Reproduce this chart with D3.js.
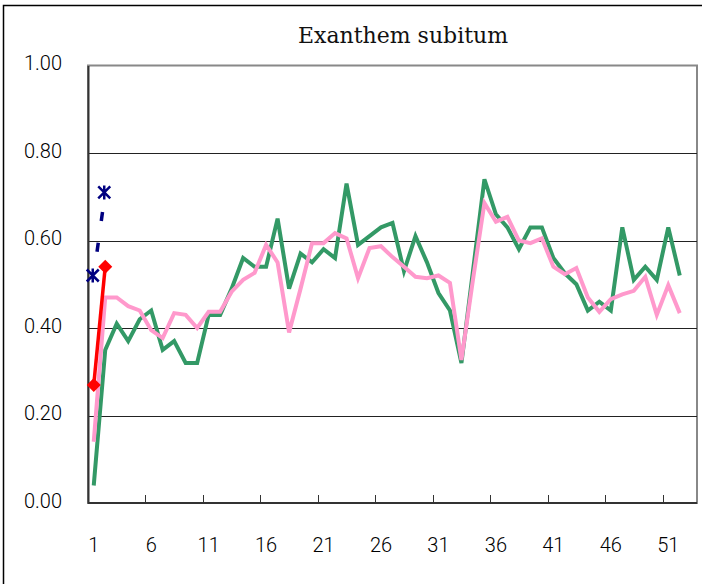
<!DOCTYPE html>
<html>
<head>
<meta charset="utf-8">
<script src="https://cdn.jsdelivr.net/npm/d3@7"></script>
<style>
  body { margin: 0; background: #fff; }
</style>
</head>
<body>
<div id="chart"></div>
<script>
// Colors
var green = "#339966";
var pink = "#FF99CC";
var red = "#FF0000";
var navy = "#000080";
var gridColor = "#222222";
var borderGray = "#888888";
const labelFont = "Roboto, 'Noto Sans', sans-serif";

// Data (weeks 1-53, values per week)
const weeks = d3.range(1, 54);
const tickWeeks = [1, 6, 11, 16, 21, 26, 31, 36, 41, 46, 51];
const yTicks = [0, 0.2, 0.4, 0.6, 0.8, 1.0];

const greenValues = [0.04, 0.35, 0.41, 0.37, 0.42, 0.44, 0.35, 0.37, 0.32, 0.32,
    0.43, 0.43, 0.49, 0.56, 0.54, 0.54, 0.65, 0.49, 0.57, 0.55,
    0.58, 0.56, 0.73, 0.59, 0.61, 0.63, 0.64, 0.53, 0.61, 0.55,
    0.48, 0.44, 0.32, 0.53, 0.74, 0.66, 0.63, 0.58, 0.63, 0.63,
    0.56, 0.525, 0.50, 0.44, 0.46, 0.44, 0.63, 0.51, 0.54, 0.51,
    0.63, 0.52];
const pinkValues = [0.14, 0.47, 0.47, 0.45, 0.44, 0.395, 0.377, 0.434, 0.43, 0.40,
    0.437, 0.437, 0.483, 0.51, 0.526, 0.59, 0.55, 0.39, 0.49, 0.594,
    0.594, 0.617, 0.605, 0.514, 0.583, 0.587, 0.562, 0.54, 0.517, 0.514,
    0.52, 0.503, 0.327, 0.51, 0.686, 0.643, 0.654, 0.60, 0.594, 0.605,
    0.54, 0.523, 0.537, 0.47, 0.437, 0.466, 0.477, 0.485, 0.517, 0.43,
    0.498, 0.434];
const navyValues = [0.52, 0.71];
const redValues = [0.27, 0.54];

// dimensions
const W = 702, H = 584;
const plot = { left: 88, right: 697, top: 65.5, bottom: 503 };

const svg = d3.select("#chart")
    .append("svg")
    .attr("width", W)
    .attr("height", H);

// outer chart border
svg.append("rect")
    .attr("x", 3.5).attr("y", 5.5)
    .attr("width", 740).attr("height", 620)
    .attr("fill", "white")
    .attr("stroke", "black")
    .attr("stroke-width", 1.5);

// title
svg.append("text")
    .text("Exanthem subitum")
    .attr("x", 403)
    .attr("y", 43)
    .attr("text-anchor", "middle")
    .attr("font-family", "'DejaVu Serif', serif")
    .attr("font-size", 22)
    .style("fill", "#111");

// scales
const x = d3.scaleBand()
    .domain(weeks)
    .range([plot.left, plot.right])
    .padding(0);
const cx = function (w) { return x(w) + x.bandwidth() / 2; };

const y = d3.scaleLinear()
    .domain([0, 1])
    .range([plot.bottom, plot.top]);

// plot area border (gray top / right)
svg.append("rect")
    .attr("x", plot.left).attr("y", plot.top)
    .attr("width", plot.right - plot.left)
    .attr("height", plot.bottom - plot.top)
    .attr("fill", "white")
    .attr("stroke", borderGray)
    .attr("stroke-width", 2);

// gridlines
svg.append("g")
    .selectAll("line")
    .data(yTicks.filter(d => d > 0 && d < 1))
    .enter().append("line")
    .attr("x1", plot.left).attr("x2", plot.right)
    .attr("y1", d => Math.round(y(d)) + 0.5)
    .attr("y2", d => Math.round(y(d)) + 0.5)
    .attr("stroke", gridColor)
    .attr("stroke-width", 1);

// Y axis
const yAxis = svg.append("g")
    .attr("transform", `translate(${plot.left}, 0)`)
    .call(d3.axisLeft(y).tickValues(yTicks).tickFormat(d3.format(".2f")).tickSize(0).tickPadding(26));
yAxis.select(".domain").attr("stroke", "#333").attr("stroke-width", 2);
yAxis.selectAll("text")
    .attr("dy", "0.2em")
    .style("font-family", labelFont)
    .style("font-size", "20px")
    .style("font-weight", 300)
    .style("fill", "#000");

// X axis: ticks at category boundaries, labels at centers
const xAxis = svg.append("g")
    .attr("transform", `translate(0, ${plot.bottom})`);
xAxis.append("line")
    .attr("x1", plot.left).attr("x2", plot.right)
    .attr("y1", 0).attr("y2", 0)
    .attr("stroke", "#333")
    .attr("stroke-width", 2);
xAxis.selectAll(".tick-mark")
    .data(tickWeeks)
    .enter().append("line")
    .attr("class", "tick-mark")
    .attr("x1", d => Math.round(x(d)) + 0.5)
    .attr("x2", d => Math.round(x(d)) + 0.5)
    .attr("y1", 0).attr("y2", -8)
    .attr("stroke", "#333")
    .attr("stroke-width", 1);
xAxis.selectAll(".tick-label")
    .data(tickWeeks)
    .enter().append("text")
    .attr("class", "tick-label")
    .text(d => d)
    .attr("x", d => cx(d))
    .attr("y", 49)
    .attr("text-anchor", "middle")
    .style("font-family", labelFont)
    .style("font-size", "20px")
    .style("font-weight", 300)
    .style("fill", "#000");

// lines
const line = d3.line()
    .x(function (d, i) { return cx(weeks[i]); })
    .y(function (d) { return y(d); });

svg.append("path")
    .datum(greenValues)
    .attr("d", line)
    .attr("fill", "none")
    .attr("stroke", green)
    .attr("stroke-width", 4)
    .attr("stroke-linejoin", "miter");

svg.append("path")
    .datum(pinkValues)
    .attr("d", line)
    .attr("fill", "none")
    .attr("stroke", pink)
    .attr("stroke-width", 4)
    .attr("stroke-linejoin", "miter");

// navy dashed with star markers
svg.append("path")
    .datum(navyValues)
    .attr("d", line)
    .attr("fill", "none")
    .attr("stroke", navy)
    .attr("stroke-width", 3.5)
    .attr("stroke-dasharray", "0,24,9,22,9,40");

const star = svg.append("g")
    .selectAll("g")
    .data(navyValues)
    .enter().append("g")
    .attr("transform", (d, i) => `translate(${cx(weeks[i]) - 1}, ${y(d)})`);
star.append("path")
    .attr("d", "M-6,-6L6,6M-6,6L6,-6M0,-7L0,7")
    .attr("stroke", navy)
    .attr("stroke-width", 2.5);

// red with diamond markers
svg.append("path")
    .datum(redValues)
    .attr("d", line)
    .attr("fill", "none")
    .attr("stroke", red)
    .attr("stroke-width", 3.5);

svg.append("g")
    .selectAll("path")
    .data(redValues)
    .enter().append("path")
    .attr("d", "M0,-7L7,0L0,7L-7,0Z")
    .attr("transform", (d, i) => `translate(${cx(weeks[i])}, ${y(d)})`)
    .attr("fill", red);
</script>
</body>
</html>
